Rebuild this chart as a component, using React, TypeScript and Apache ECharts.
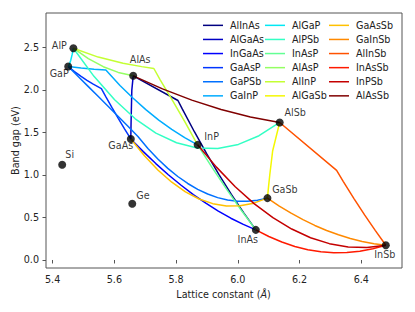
import React, { useEffect, useRef } from "react";
import * as echarts from "echarts";

// ---- Data (lattice constant in Å, band gap in eV) ----
const alloyNames = [
  "AlInAs", "AlGaAs", "InGaAs", "GaAsP", "GaPSb", "GaInP",
  "AlGaP", "AlPSb", "InAsP", "AlAsP", "AlInP", "AlGaSb",
  "GaAsSb", "GaInSb", "AlInSb", "InAsSb", "InPSb", "AlAsSb",
];

const AlInAs = [[5.6611,2.164],[5.806,1.874],[5.820,1.775],[5.8597,1.504],[5.8994,1.246],[5.939,1.002],[5.979,0.772],[6.0186,0.556],[6.0583,0.354]];
const AlGaAs = [[5.65325,1.4225],[5.654,1.580],[5.6548,1.717],[5.6556,1.841],[5.6566,1.996],[5.6611,2.164]];
const InGaAs = [[5.65325,1.4225],[5.6938,1.273],[5.7343,1.133],[5.7748,1.002],[5.8153,0.881],[5.8558,0.769],[5.8963,0.667],[5.9368,0.574],[5.9773,0.491],[6.0178,0.418],[6.0583,0.354]];
const GaAsP = [[5.4505,2.273],[5.4708,2.214],[5.4911,2.160],[5.5113,2.110],[5.5316,2.066],[5.558,2.014],[5.5722,1.920],[5.5924,1.790],[5.6127,1.664],[5.633,1.541],[5.65325,1.4225]];
const GaPSb = [[5.4505,2.273],[5.4828,2.156],[5.515,2.040],[5.5473,1.923],[5.5796,1.806],[5.6118,1.690],[5.6441,1.572],[5.6764,1.450],[5.7087,1.309],[5.7409,1.186],[5.7732,1.077],[5.8055,0.981],[5.8377,0.899],[5.87,0.830],[5.9023,0.775],[5.9346,0.733],[5.9668,0.705],[5.9991,0.690],[6.0314,0.689],[6.0636,0.701],[6.0959,0.727]];
const GaInP = [[5.4505,2.273],[5.4924,2.255],[5.5343,2.241],[5.5725,2.231],[5.6182,2.051],[5.6601,1.903],[5.702,1.767],[5.7439,1.644],[5.7859,1.534],[5.8278,1.437],[5.8697,1.353]];
const AlGaP = [[5.4505,2.273],[5.4547,2.302],[5.45885,2.348],[5.463,2.410],[5.4672,2.488]];
const AlPSb = [[5.4672,2.488],[5.534,2.158],[5.6009,1.882],[5.6677,1.659],[5.7346,1.491],[5.8014,1.377],[5.8682,1.317],[5.935,1.311],[6.0019,1.358],[6.0687,1.460],[6.1355,1.616]];
const InAsP = [[5.8697,1.353],[5.9169,1.085],[5.964,0.829],[6.0112,0.585],[6.0583,0.354]];
const AlAsP = [[5.4672,2.488],[5.5157,2.366],[5.5642,2.271],[5.6126,2.204],[5.6611,2.164]];
const AlInP = [[5.4672,2.488],[5.5477,2.384],[5.6282,2.311],[5.6886,2.272],[5.728,2.250],[5.749,2.114],[5.7892,1.870],[5.8295,1.616],[5.8697,1.353]];
const AlGaSb = [[6.0959,0.727],[6.0999,0.877],[6.1038,1.010],[6.1078,1.131],[6.1129,1.284],[6.1355,1.616]];
const GaAsSb = [[5.65325,1.4225],[5.6975,1.224],[5.7418,1.055],[5.7861,0.914],[5.8303,0.801],[5.8746,0.717],[5.9189,0.662],[5.9631,0.635],[6.0074,0.637],[6.0516,0.668],[6.0959,0.727]];
const GaInSb = [[6.0959,0.727],[6.1343,0.634],[6.1726,0.550],[6.211,0.474],[6.2493,0.406],[6.2877,0.347],[6.326,0.296],[6.3644,0.253],[6.4027,0.218],[6.4411,0.192],[6.4794,0.174]];
const AlInSb = [[6.1355,1.616],[6.32,1.053],[6.3418,0.921],[6.3762,0.722],[6.4106,0.530],[6.445,0.348],[6.4794,0.174]];
const InAsSb = [[6.0583,0.354],[6.1004,0.276],[6.1425,0.211],[6.1846,0.159],[6.2267,0.121],[6.2689,0.097],[6.311,0.085],[6.3531,0.087],[6.3952,0.103],[6.4373,0.132],[6.4794,0.174]];
const InPSb = [[5.8697,1.353],[5.9307,1.091],[5.9916,0.861],[6.0526,0.663],[6.1136,0.497],[6.1746,0.364],[6.2355,0.262],[6.2965,0.192],[6.3575,0.154],[6.4184,0.148],[6.4794,0.174]];
const AlAsSb = [[5.6611,2.164],[5.756,2.010],[5.8509,1.878],[5.9457,1.768],[6.0406,1.681],[6.1355,1.616]];

const alloyData = [
  AlInAs, AlGaAs, InGaAs, GaAsP, GaPSb, GaInP,
  AlGaP, AlPSb, InAsP, AlAsP, AlInP, AlGaSb,
  GaAsSb, GaInSb, AlInSb, InAsSb, InPSb, AlAsSb,
];

const binaryNames = ["AlP", "GaP", "AlAs", "GaAs", "InP", "AlSb", "GaSb", "InAs", "InSb", "Si", "Ge"];
const binaryLattice = [5.4672, 5.4505, 5.6611, 5.65325, 5.8697, 6.1355, 6.0959, 6.0583, 6.4794, 5.431, 5.658];
const binaryGap = [2.488, 2.273, 2.164, 1.4225, 1.353, 1.616, 0.727, 0.354, 0.174, 1.12, 0.66];

const xTicks = [5.4, 5.6, 5.8, 6.0, 6.2, 6.4];
const yTicks = [0.0, 0.5, 1.0, 1.5, 2.0, 2.5];

// ---- Styles ----
const colors = [
  "#000080", "#0000c4", "#0000ff", "#0035ff", "#0070ff", "#00acff",
  "#02e8f4", "#33ffc4", "#63ff94", "#94ff63", "#c4ff33", "#f4f802",
  "#ffc100", "#ff8900", "#ff5200", "#ff1a00", "#c40000", "#800000",
];

const labelOffsets: Record<string, number[]> = {
  AlP: [-14, -3], GaP: [-9, 7], AlAs: [7, -16], GaAs: [-10, 7],
  InP: [14, -8], AlSb: [15.5, -9.5], GaSb: [17.5, -8.3], InAs: [-8, 9.5],
  InSb: [-1, 9.6], Si: [7.5, -10], Ge: [10.7, -8.6],
};

const FONT = "DejaVu Sans";
const FS = 9.6;
const TXT = "#222";

export default function App() {
  const ref = useRef<HTMLDivElement>(null);
  useEffect(() => {
    document.body.style.margin = "0";
    if (!ref.current) return;
    const chart = echarts.init(ref.current, null, { renderer: "svg" });

    const lineSeries = alloyNames.map((n, i) => ({
      name: n,
      type: "line",
      data: alloyData[i],
      symbol: "none",
      showSymbol: false,
      lineStyle: { width: 1.5, color: colors[i] },
      itemStyle: { color: colors[i] },
      z: 2,
      silent: true,
    }));

    const scatterData = binaryNames.map((n, i) => ({
      name: n,
      value: [binaryLattice[i], binaryGap[i]],
      label: { offset: labelOffsets[n] },
    }));

    const legendBase = {
      orient: "vertical",
      icon: "rect",
      padding: 0,
      itemWidth: 20,
      itemHeight: 1.5,
      itemGap: 0,
      selectedMode: false,
      textStyle: { fontSize: FS, fontFamily: FONT, color: TXT, lineHeight: 14.1, padding: [0, 0, 0, 2] },
      top: 18.3,
    };

    chart.setOption({
      animation: false,
      backgroundColor: "#fff",
      grid: {
        left: 46, right: 13, top: 13, bottom: 44,
        show: true, borderColor: "#555", borderWidth: 1,
      },
      xAxis: {
        type: "value",
        min: 5.3786,
        max: 6.5318,
        axisLine: { show: false },
        splitLine: { show: false },
        axisTick: { show: true, inside: false, length: 3.5, customValues: xTicks, lineStyle: { color: "#555" } },
        axisLabel: {
          customValues: xTicks, margin: 6, fontSize: FS, fontFamily: FONT, color: TXT,
          formatter: (v: number) => v.toFixed(1),
        },
      },
      yAxis: {
        type: "value",
        min: -0.094,
        max: 2.902,
        axisLine: { show: false },
        splitLine: { show: false },
        axisTick: { show: true, inside: false, length: 3.5, customValues: yTicks, lineStyle: { color: "#555" } },
        axisLabel: {
          customValues: yTicks, margin: 7, fontSize: FS, fontFamily: FONT, color: TXT,
          formatter: (v: number) => v.toFixed(1),
        },
      },
      legend: [
        { ...legendBase, left: 203, data: alloyNames.slice(0, 6) },
        { ...legendBase, left: 265, data: alloyNames.slice(6, 12) },
        { ...legendBase, left: 329, data: alloyNames.slice(12, 18) },
      ],
      graphic: [
        {
          type: "text", x: 223.5, y: 294,
          style: {
            text: "{a|Lattice constant (}{b|Å}{a|)}",
            align: "center", verticalAlign: "middle",
            fontSize: FS, fontFamily: FONT, fill: TXT,
            rich: {
              a: { fontSize: FS, fontFamily: FONT, fill: TXT, color: TXT },
              b: { fontSize: FS, fontFamily: FONT, fontStyle: "italic", fill: TXT, color: TXT },
            },
          },
        },
        {
          type: "text", x: 15, y: 140.5, rotation: Math.PI / 2,
          style: {
            text: "Band gap (eV)", align: "center", verticalAlign: "middle",
            fontSize: FS, fontFamily: FONT, fill: TXT,
          },
        },
      ],
      series: [
        ...lineSeries,
        {
          name: "binaries",
          type: "scatter",
          data: scatterData,
          symbol: "circle",
          symbolSize: 8,
          itemStyle: { color: "#000" },
          z: 10,
          silent: true,
          label: {
            show: true, position: "inside", formatter: "{b}",
            fontSize: FS, fontFamily: FONT, color: "#000",
          },
        },
      ],
    });
    return () => chart.dispose();
  }, []);
  return <div ref={ref} style={{ width: 415, height: 312 }} />;
}
